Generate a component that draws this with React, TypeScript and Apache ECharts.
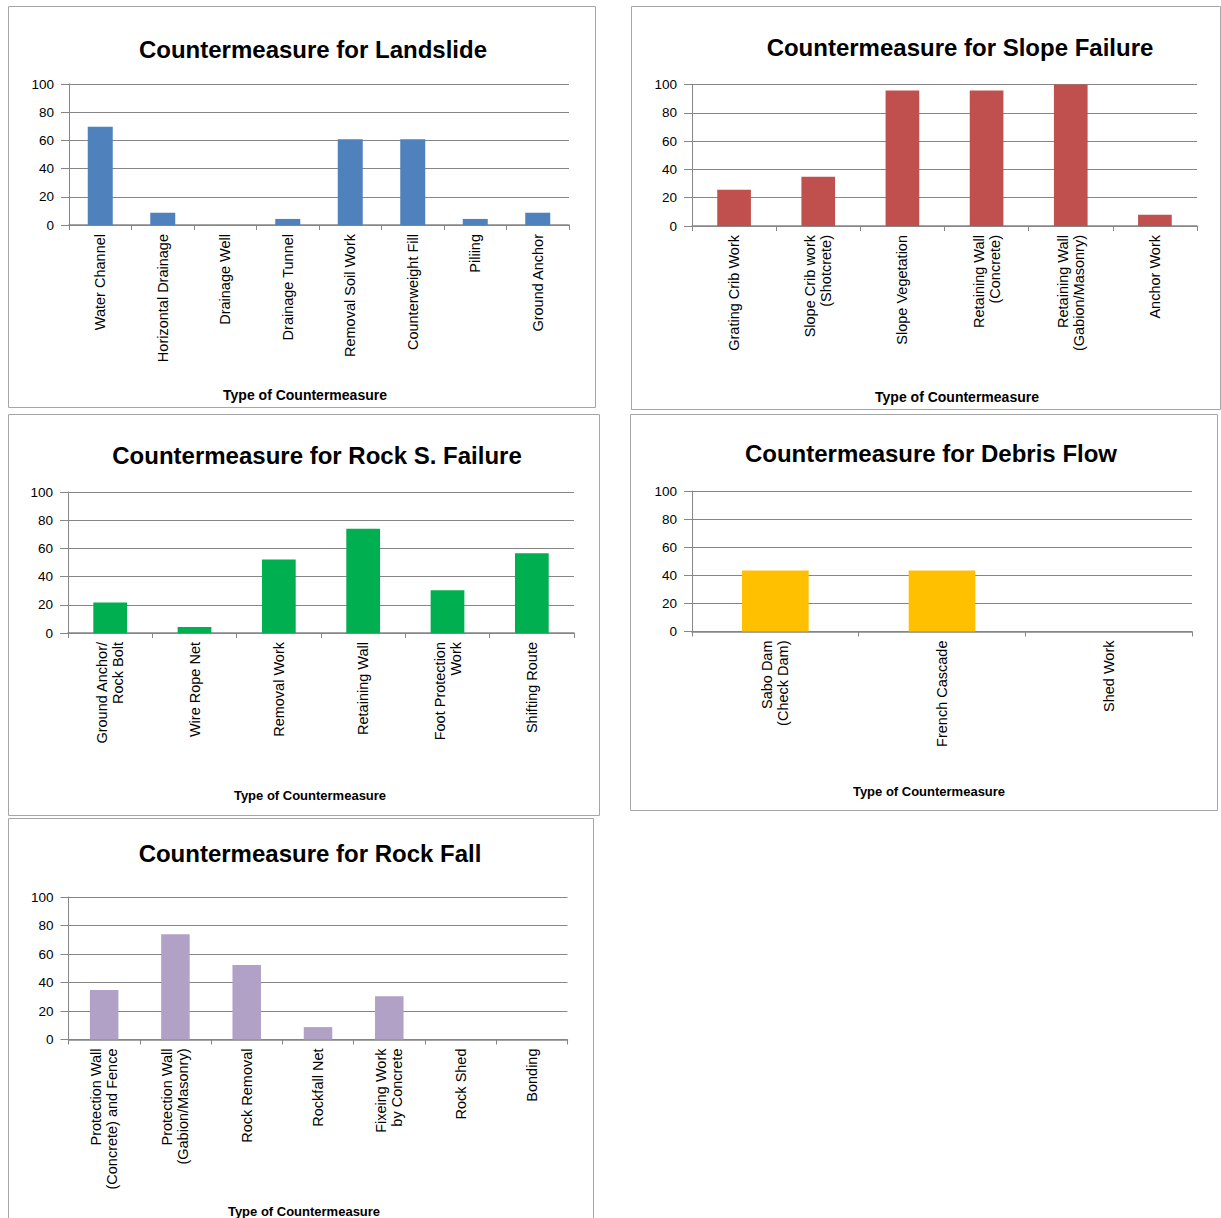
import React, { useEffect, useRef } from "react";
import * as echarts from "echarts";

const landslideCats = ["Water Channel", "Horizontal Drainage", "Drainage Well", "Drainage Tunnel", "Removal Soil Work", "Counterweight Fill", "Piliing", "Ground Anchor"];
const landslideVals = [69.6, 8.7, 0, 4.3, 60.9, 60.9, 4.3, 8.7];

const slopeCats = ["Grating Crib Work", "Slope Crib work\n(Shotcrete)", "Slope Vegetation", "Retaining Wall\n(Concrete)", "Retaining Wall\n(Gabion/Masonry)", "Anchor Work"];
const slopeVals = [25.6, 34.8, 95.7, 95.7, 100, 8.0];

const rockSCats = ["Ground Anchor/\nRock Bolt", "Wire Rope Net", "Removal Work", "Retaining Wall", "Foot Protection\nWork", "Shifting Route"];
const rockSVals = [21.7, 4.3, 52.2, 73.9, 30.4, 56.5];

const debrisCats = ["Sabo Dam\n(Check Dam)", "French Cascade", "Shed Work"];
const debrisVals = [43.5, 43.5, 0];

const rockFallCats = ["Protection Wall\n(Concrete) and Fence", "Protection Wall\n(Gabion/Masonry)", "Rock Removal", "Rockfall Net", "Fixeing Work\nby Concrete", "Rock Shed", "Bonding"];
const rockFallVals = [34.8, 73.9, 52.2, 8.7, 30.4, 0, 0];

const yTicks = { min: 0, max: 100, interval: 20 };

const FONT = "'Liberation Sans', Arial, sans-serif";

type Panel = {
  title: string;
  cats: string[];
  vals: number[];
  color: string;
  box: [number, number, number, number];
  grid: [number, number, number, number];
  titlePos: [number, number];
  namePos: [number, number];
  nameSize: number;
};

const panels: Panel[] = [
  { title: "Countermeasure for Landslide", cats: landslideCats, vals: landslideVals, color: "#4f81bd", box: [8, 6, 595, 407], grid: [69, 84, 500, 141], titlePos: [313, 49], namePos: [305, 395], nameSize: 14 },
  { title: "Countermeasure for Slope Failure", cats: slopeCats, vals: slopeVals, color: "#c0504d", box: [631, 6, 1220, 409], grid: [692, 84.5, 505, 141.5], titlePos: [960, 47], namePos: [957, 397], nameSize: 14 },
  { title: "Countermeasure for Rock S. Failure", cats: rockSCats, vals: rockSVals, color: "#00b050", box: [8, 414, 599, 815], grid: [68, 492, 506, 141], titlePos: [317, 455], namePos: [310, 795], nameSize: 13 },
  { title: "Countermeasure for Debris Flow", cats: debrisCats, vals: debrisVals, color: "#ffc000", box: [630, 414, 1217, 810], grid: [692, 491, 500, 140.5], titlePos: [931, 453], namePos: [929, 791], nameSize: 13 },
  { title: "Countermeasure for Rock Fall", cats: rockFallCats, vals: rockFallVals, color: "#b2a1c7", box: [8, 818, 593, 1240], grid: [68.5, 897, 499, 142.5], titlePos: [310, 853], namePos: [304, 1211], nameSize: 13 },
];

export default function App() {
  const ref = useRef<HTMLDivElement>(null);
  useEffect(() => {
    if (!ref.current) return;
    const chart = echarts.init(ref.current, null, { renderer: "svg" });
    const graphics: any[] = [];
    panels.forEach((p) => {
      graphics.push({
        type: "rect",
        shape: { x: p.box[0] + 0.5, y: p.box[1] + 0.5, width: p.box[2] - p.box[0], height: p.box[3] - p.box[1] },
        style: { fill: "none", stroke: "#a6a6a6", lineWidth: 1 },
        silent: true,
      });
      graphics.push({
        type: "text",
        x: p.titlePos[0],
        y: p.titlePos[1],
        style: { text: p.title, fill: "#000", font: `bold 24px ${FONT}`, align: "center", verticalAlign: "middle", textAlign: "center", textVerticalAlign: "middle" },
      });
      graphics.push({
        type: "text",
        x: p.namePos[0],
        y: p.namePos[1],
        style: { text: "Type of Countermeasure", fill: "#000", font: `bold ${p.nameSize}px ${FONT}`, align: "center", verticalAlign: "middle", textAlign: "center", textVerticalAlign: "middle" },
      });
    });

    const option: any = {
      animation: false,
      backgroundColor: "#fff",
      textStyle: { fontFamily: FONT },
      grid: panels.map((p) => ({ left: p.grid[0], top: p.grid[1], width: p.grid[2], height: p.grid[3], containLabel: false })),
      xAxis: panels.map((p, i) => ({
        type: "category",
        gridIndex: i,
        data: p.cats,
        axisLine: { show: true, lineStyle: { color: "#868686", width: 1.5 } },
        axisTick: { show: true, length: 5, lineStyle: { color: "#868686" } },
        axisLabel: { rotate: 90, interval: 0, margin: 9, color: "#000", fontSize: 14.5, fontFamily: FONT, lineHeight: 16 },
        splitLine: { show: false },
      })),
      yAxis: panels.map((p, i) => ({
        type: "value",
        gridIndex: i,
        min: yTicks.min,
        max: yTicks.max,
        interval: yTicks.interval,
        axisLine: { show: true, lineStyle: { color: "#868686" } },
        axisTick: { show: true, length: 8, lineStyle: { color: "#868686" } },
        axisLabel: { margin: 15, color: "#000", fontSize: 13.5, fontFamily: FONT },
        splitLine: { show: true, lineStyle: { color: "#868686", width: 1 } },
      })),
      series: panels.map((p, i) => ({
        type: "bar",
        xAxisIndex: i,
        yAxisIndex: i,
        data: p.vals,
        barCategoryGap: "60%",
        itemStyle: { color: p.color },
      })),
      graphic: graphics,
    };
    chart.setOption(option);
    return () => chart.dispose();
  }, []);
  return <div ref={ref} style={{ position: "absolute", left: 0, top: 0, width: 1221, height: 1218 }} />;
}
